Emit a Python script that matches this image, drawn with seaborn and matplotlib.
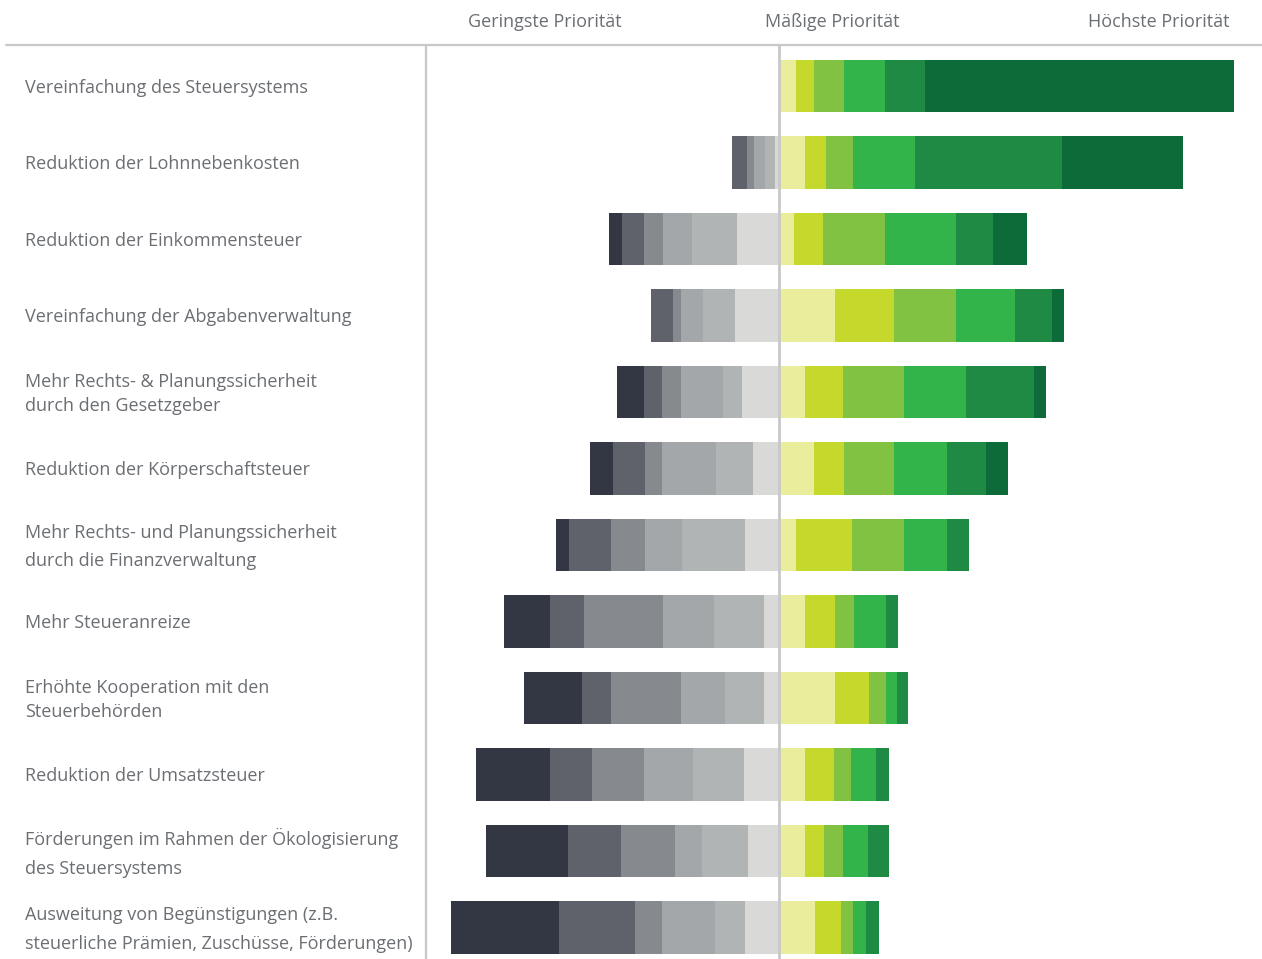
import numpy as np
import pandas as pd
import seaborn as sns
import matplotlib
matplotlib.use("Agg")
import matplotlib.pyplot as plt
from matplotlib.transforms import blended_transform_factory

# Reform priorities: share of answers per priority level (percent)
categories = [
    "Vereinfachung des Steuersystems",
    "Reduktion der Lohnnebenkosten",
    "Reduktion der Einkommensteuer",
    "Vereinfachung der Abgabenverwaltung",
    "Mehr Rechts- & Planungssicherheit\ndurch den Gesetzgeber",
    "Reduktion der Körperschaftsteuer",
    "Mehr Rechts- und Planungssicherheit\ndurch die Finanzverwaltung",
    "Mehr Steueranreize",
    "Erhöhte Kooperation mit den\nSteuerbehörden",
    "Reduktion der Umsatzsteuer",
    "Förderungen im Rahmen der Ökologisierung\ndes Steuersystems",
    "Ausweitung von Begünstigungen (z.B.\nsteuerliche Prämien, Zuschüsse, Förderungen)",
]

# Low-priority levels, ordered from lowest priority (outermost) to the middle
low_1 = [0.0, 0.0, 2.7, 0.0, 6.0, 5.1, 2.9, 10.2, 12.9, 16.4, 18.2, 24.0]
low_2 = [0.0, 3.3, 5.1, 4.9, 4.2, 7.1, 9.3, 7.6, 6.4, 9.3, 11.8, 16.9]
low_3 = [0.0, 1.6, 4.2, 1.8, 4.2, 3.8, 7.6, 17.6, 15.6, 11.6, 12.0, 6.0]
low_4 = [0.0, 2.4, 6.4, 4.9, 9.3, 12.0, 8.2, 11.3, 9.8, 10.9, 6.0, 11.6]
low_5 = [0.0, 2.2, 10.0, 7.1, 4.2, 8.2, 14.0, 11.1, 8.7, 11.3, 10.2, 6.7]
low_6 = [0.0, 1.0, 9.3, 9.7, 8.2, 5.7, 7.6, 3.3, 3.3, 7.8, 6.9, 7.6]

# High-priority levels, ordered from the middle to highest priority (outermost)
high_1 = [3.7, 5.7, 3.4, 12.5, 5.8, 7.8, 3.8, 5.8, 12.4, 5.8, 5.8, 8.0]
high_2 = [4.0, 4.7, 6.4, 13.1, 8.4, 6.7, 12.4, 6.7, 7.6, 6.4, 4.2, 5.8]
high_3 = [6.7, 6.0, 13.8, 13.8, 13.6, 11.1, 11.6, 4.2, 3.8, 3.8, 4.2, 2.7]
high_4 = [9.1, 13.8, 15.8, 13.1, 13.8, 11.8, 9.6, 7.1, 2.4, 5.6, 5.6, 2.9]
high_5 = [8.9, 32.7, 8.2, 8.2, 15.1, 8.7, 4.9, 2.7, 2.4, 2.9, 4.7, 2.9]
high_6 = [68.7, 26.9, 7.6, 2.7, 2.7, 4.7, 0.0, 0.0, 0.0, 0.0, 0.0, 0.0]

header_labels = ["Geringste Priorität", "Mäßige Priorität", "Höchste Priorität"]

low_levels = [low_1, low_2, low_3, low_4, low_5, low_6]
high_levels = [high_1, high_2, high_3, high_4, high_5, high_6]

low_colors = ["#333744", "#5f626b", "#86898e", "#a3a7aa", "#b0b4b5", "#d9d9d7"]
high_colors = ["#eaed9c", "#c5d92d", "#82c242", "#33b44a", "#1f8a43", "#0d6b3a"]

sns.set_theme(style="white")
plt.rcParams["font.family"] = ["Open Sans", "DejaVu Sans"]

W, H = 1262, 959
fig = plt.figure(figsize=(W / 100, H / 100), dpi=100)
# plot region: from the separator line to the right edge, below the header rule
ax = fig.add_axes([426 / W, 0.0, (W - 426) / W, (H - 45) / H])

text_color = "#6b6e73"
rule_color = "#c8c8c8"

# Stacked bars via overlapping cumulative bars: outermost sum drawn first
low_cum = np.cumsum(np.array(low_levels[::-1]), axis=0)  # from middle outward
high_cum = np.cumsum(np.array(high_levels), axis=0)

for k in range(5, -1, -1):
    df = pd.DataFrame({"category": categories, "value": high_cum[k]})
    sns.barplot(data=df, x="value", y="category", orient="h", order=categories,
                color=high_colors[k], saturation=1, width=0.69,
                linewidth=0, edgecolor="none", ax=ax)
for k in range(5, -1, -1):
    df = pd.DataFrame({"category": categories, "value": -low_cum[k]})
    sns.barplot(data=df, x="value", y="category", orient="h", order=categories,
                color=low_colors[::-1][k], saturation=1, width=0.69,
                linewidth=0, edgecolor="none", ax=ax)

px = 4.5  # pixels per percent
ax.set_xlim(-(779 - 426) / px, (W - 779) / px)
ax.set_ylim((H - 86) / 76.5, -(86 - 45) / 76.5)

# centre line
ax.axvline(0, color=rule_color, lw=2, zorder=5)

ax.set_xlabel("")
ax.set_ylabel("")
ax.set_xticks([])
ax.set_yticks([])
for side in ["top", "right", "bottom"]:
    ax.spines[side].set_visible(False)
ax.spines["left"].set_color(rule_color)
ax.spines["left"].set_linewidth(1.6)

# category labels on the left
trans = blended_transform_factory(fig.transFigure, ax.transData)
label_spacing = [1.2, 1.2, 1.2, 1.2, 1.45, 1.2, 1.75, 1.2, 1.45, 1.2, 1.8, 1.75]
for i, (lab, ls) in enumerate(zip(categories, label_spacing)):
    ax.text(25 / W, i + 0.025, lab, transform=trans, ha="left", va="center",
            fontsize=13, color=text_color, linespacing=ls)

# header rule and column headers
fig.add_artist(plt.Line2D([6 / W, 1.0], [1 - 45 / H, 1 - 45 / H],
                          transform=fig.transFigure, color=rule_color, lw=1.6))
header_x = [545, 832, 1159]
for xh, txt in zip(header_x, header_labels):
    fig.text(xh / W, 1 - 22 / H, txt, ha="center", va="center",
             fontsize=13, color=text_color)

fig.savefig("out.png", dpi=100, facecolor="white")
